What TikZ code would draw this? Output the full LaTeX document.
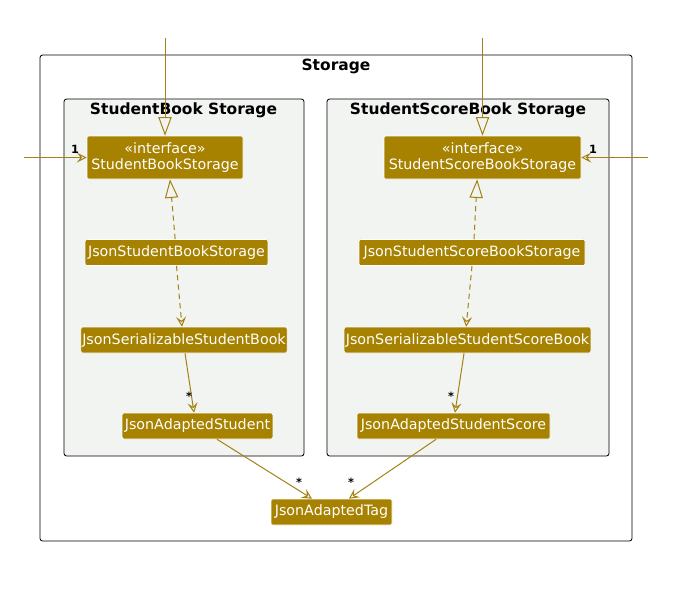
\documentclass[tikz,border=0pt]{standalone}
\usepackage{fontspec}
\setmainfont{DejaVu Sans}
\usetikzlibrary{arrows.meta}
\definecolor{gold}{RGB}{166,130,0}
\definecolor{linegold}{RGB}{163,130,20}
\definecolor{pkgfill}{RGB}{242,244,242}
\begin{document}
\begin{tikzpicture}[x=0.75pt,y=-0.75pt,
  cls/.style={fill=gold, draw=white, line width=0.4pt, rounded corners=1.5pt, text=white,
    font=\fontsize{10.7}{12.6}\selectfont, inner xsep=1pt, inner ysep=1.5pt, minimum height=19.5pt, align=center},
  pkgbox/.style={draw=black, fill=pkgfill, rounded corners=2pt, line width=0.6pt},
  outerbox/.style={draw=black, fill=white, rounded corners=2pt, line width=0.6pt},
  ttl/.style={font=\bfseries\fontsize{11.6}{13}\selectfont},
  lbl/.style={font=\bfseries\fontsize{8.5}{10}\selectfont, inner sep=0pt},
  conn/.style={draw=linegold, line width=0.75pt},
  veetip/.style={-{Stealth[open,length=7.5pt,width=7.5pt,inset=3pt]}},
  tritip/.style={-{Triangle[open,length=14pt,width=10pt]}},
  dashpat/.style={dash pattern=on 4pt off 3pt}
]
\useasboundingbox (0,0) rectangle (689,608);
% containers
\path[outerbox] (40,55) rectangle (632,541);
\node[ttl] (tstorage) at (336,66) {Storage};
\path[pkgbox] (64,99) rectangle (304,456);
\node[ttl] (tsb) at (183.5,110) {StudentBook Storage};
\path[pkgbox] (327,99) rectangle (609,456);
\node[ttl] (tssb) at (468,110) {StudentScoreBook Storage};
% classes
\node[cls, minimum width=117pt, minimum height=32.25pt] (sbs) at (165,157.5) {«interface»\\StudentBookStorage};
\node[cls, minimum width=147.75pt, minimum height=32.25pt] (ssbs) at (482.5,157.5) {«interface»\\StudentScoreBookStorage};
\node[cls, minimum width=137pt] (jsbs) at (176.5,252.5) {JsonStudentBookStorage};
\node[cls, minimum width=154.5pt] (jssb) at (184,340) {JsonSerializableStudentBook};
\node[cls, minimum width=113pt] (jas) at (197.5,426) {JsonAdaptedStudent};
\node[cls, minimum width=169.5pt] (jssbs) at (472,252.5) {JsonStudentScoreBookStorage};
\node[cls, minimum width=185pt] (jsssb) at (467.5,340) {JsonSerializableStudentScoreBook};
\node[cls, minimum width=144.75pt] (jass) at (453.5,426) {JsonAdaptedStudentScore};
\node[cls, minimum width=90.75pt] (tag) at (331.5,512) {JsonAdaptedTag};
% free ends
\coordinate (topl) at (165,38);
\coordinate (topr) at (482.5,38);
\coordinate (lft) at (24,157.5);
\coordinate (rgt) at (648,157.5);
% connectors
\draw[conn, tritip] (topl) -- (sbs.north);
\draw[conn, tritip] (topr) -- (ssbs.north);
\draw[conn, veetip] (lft) -- (sbs.west);
\node[lbl] (l1) at (75,149) {1};
\draw[conn, veetip] (rgt) -- (ssbs.east);
\node[lbl] (l2) at (593,149) {1};
\draw[conn, dashpat, tritip] ([xshift=-1pt]jsbs.north) -- ([xshift=3.75pt]sbs.south);
\draw[conn, dashpat, veetip] (jsbs.south) -- ([xshift=-1.5pt]jssb.north);
\draw[conn, veetip] ([xshift=0.75pt]jssb.south) -- ([xshift=-2.6pt]jas.north);
\node[lbl] (s1) at (189,396) {*};
\draw[conn, veetip] ([xshift=14.6pt]jas.south) -- ([xshift=-14.6pt]tag.north);
\node[lbl] (s2) at (299,482) {*};
\draw[conn, dashpat, tritip] ([xshift=1.5pt]jssbs.north) -- ([xshift=-4pt]ssbs.south);
\draw[conn, dashpat, veetip] (jssbs.south) -- ([xshift=-1pt]jsssb.north);
\draw[conn, veetip] ([xshift=-2.6pt]jsssb.south) -- ([xshift=1.1pt]jass.north);
\node[lbl] (s3) at (451,396) {*};
\draw[conn, veetip] ([xshift=-13pt]jass.south) -- ([xshift=13pt]tag.north);
\node[lbl] (s4) at (351,482) {*};
\end{tikzpicture}
\end{document}
